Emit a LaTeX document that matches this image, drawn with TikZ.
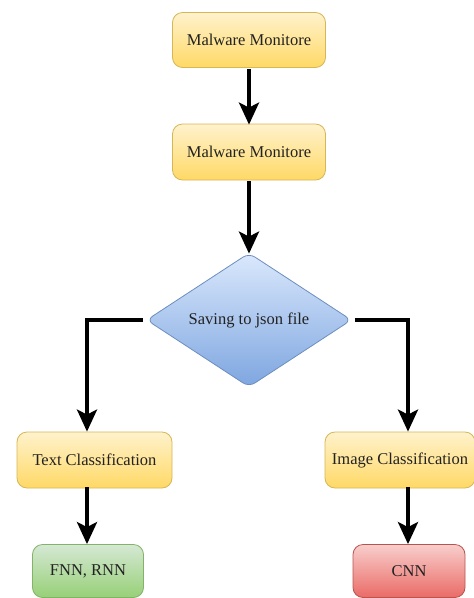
\documentclass[tikz,border=0pt]{standalone}
\usepackage{fontspec}
\setmainfont{Liberation Serif}
\usetikzlibrary{shapes.geometric,arrows.meta}
\definecolor{ytop}{HTML}{FFF2CC}
\definecolor{ybot}{HTML}{FFD966}
\definecolor{yline}{HTML}{D6B656}
\definecolor{btop}{HTML}{DAE8FC}
\definecolor{bbot}{HTML}{7EA6E0}
\definecolor{bline}{HTML}{6C8EBF}
\definecolor{gtop}{HTML}{D5E8D4}
\definecolor{gbot}{HTML}{97D077}
\definecolor{gline}{HTML}{82B366}
\definecolor{rtop}{HTML}{F8CECC}
\definecolor{rbot}{HTML}{EA6B66}
\definecolor{rline}{HTML}{B85450}
\definecolor{txt}{HTML}{222222}
\tikzset{
  box/.style={rectangle, rounded corners=10pt, draw, line width=0.8pt, inner sep=0pt,
    font=\fontsize{16.5}{19}\selectfont, text=txt},
  ybox/.style={box, draw=yline, top color=ytop, bottom color=ybot},
  gbox/.style={box, draw=gline, top color=gtop, bottom color=gbot},
  rbox/.style={box, draw=rline, top color=rtop, bottom color=rbot},
  dec/.style={diamond, aspect=1.53, rounded corners=7pt, draw=bline, line width=0.8pt,
    top color=btop, bottom color=bbot, inner sep=0pt, minimum width=205pt, minimum height=134pt,
    font=\fontsize{16.5}{19}\selectfont, text=txt},
  conn/.style={line width=4pt, black, -{Stealth[length=22pt,width=20pt,inset=5pt]}},
}
\begin{document}
\begin{tikzpicture}[x=1pt,y=-1pt]
\useasboundingbox (0,0) rectangle (474,598);
\node[ybox, minimum width=153pt, minimum height=55pt] (m1) at (249,40) {Malware Monitore};
\node[ybox, minimum width=153pt, minimum height=56pt] (m2) at (249,152) {Malware Monitore};
\node[dec] (d) at (249,320) {Saving to json file};
\node[ybox, minimum width=155pt, minimum height=56pt] (t) at (94.5,460) {Text Classification};
\node[ybox, minimum width=150pt, minimum height=56pt] (im) at (400,460) {Image Classification};
\node[gbox, minimum width=111pt, minimum height=53pt] (f) at (88,571) {FNN, RNN};
\node[rbox, minimum width=112pt, minimum height=53pt] (c) at (409,571) {CNN};
\coordinate (cl) at (87,320);
\coordinate (cr) at (408,320);
\draw[conn] (m1.south) ++(0,1) -- ([yshift=-1pt]m2.north);
\draw[conn] (m2.south) ++(0,1) -- ([yshift=-1pt]d.north);
\draw[conn] ([xshift=-3pt]d.west) -- (cl) -- (cl |- t.north);
\draw[conn] ([xshift=3pt]d.east) -- (cr) -- (cr |- im.north);
\draw[conn] (f.north -| cl) ++(0,-57) -- (cl |- f.north);
\draw[conn] (c.north -| cr) ++(0,-57) -- (cr |- c.north);
\end{tikzpicture}
\end{document}
